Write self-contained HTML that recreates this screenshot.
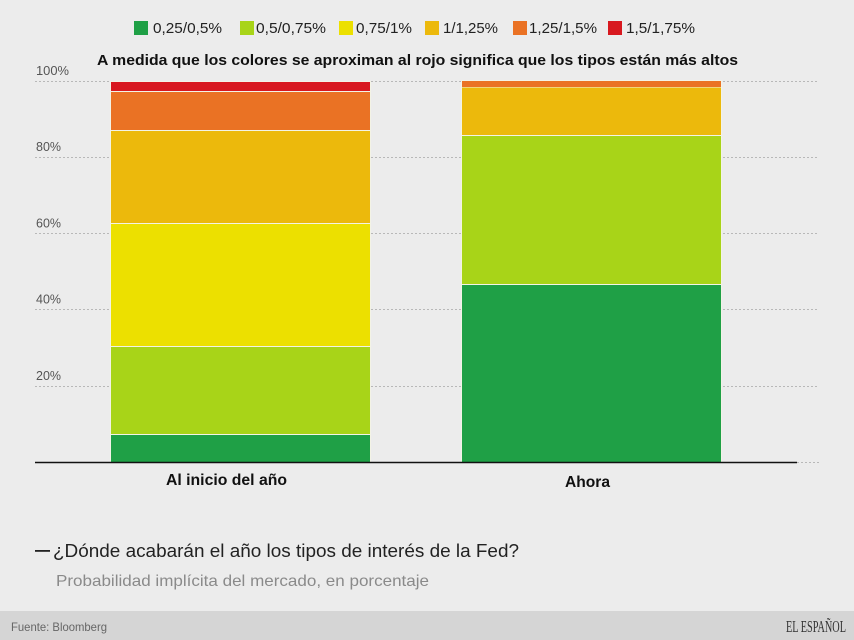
<!DOCTYPE html>
<html><head><meta charset="utf-8"><style>
html,body{margin:0;padding:0;background:#ececec;}
svg{display:block;}
</style></head><body>
<svg width="854" height="640" viewBox="0 0 854 640" xmlns="http://www.w3.org/2000/svg" font-family="'Liberation Sans', Arial, sans-serif">
<rect x="0" y="0" width="854" height="640" fill="#ececec"/>
<!-- legend -->
<g font-size="15" fill="#222">
<rect x="134" y="21" width="14" height="14" fill="#1fa046"/><text x="153" y="33" textLength="69" lengthAdjust="spacingAndGlyphs">0,25/0,5%</text>
<rect x="240" y="21" width="14" height="14" fill="#a8d418"/><text x="256" y="33" textLength="70" lengthAdjust="spacingAndGlyphs">0,5/0,75%</text>
<rect x="339" y="21" width="14" height="14" fill="#ece000"/><text x="356" y="33" textLength="56" lengthAdjust="spacingAndGlyphs">0,75/1%</text>
<rect x="425" y="21" width="14" height="14" fill="#ecb90c"/><text x="443" y="33" textLength="55" lengthAdjust="spacingAndGlyphs">1/1,25%</text>
<rect x="513" y="21" width="14" height="14" fill="#ea7224"/><text x="529" y="33" textLength="68" lengthAdjust="spacingAndGlyphs">1,25/1,5%</text>
<rect x="608" y="21" width="14" height="14" fill="#d8181f"/><text x="626" y="33" textLength="69" lengthAdjust="spacingAndGlyphs">1,5/1,75%</text>
</g>
<text x="97" y="65" font-size="15" font-weight="bold" fill="#111" textLength="641" lengthAdjust="spacingAndGlyphs">A medida que los colores se aproximan al rojo significa que los tipos están más altos</text>
<!-- y labels -->
<g font-size="13" fill="#555">
<text x="36" y="75" textLength="33" lengthAdjust="spacingAndGlyphs">100%</text>
<text x="36" y="151" textLength="25" lengthAdjust="spacingAndGlyphs">80%</text>
<text x="36" y="227.5" textLength="25" lengthAdjust="spacingAndGlyphs">60%</text>
<text x="36" y="303.5" textLength="25" lengthAdjust="spacingAndGlyphs">40%</text>
<text x="36" y="380" textLength="25" lengthAdjust="spacingAndGlyphs">20%</text>
</g>
<!-- gridlines -->
<g stroke="#b8b8b8" stroke-width="1" stroke-dasharray="2,2">
<line x1="35" y1="81.5" x2="819" y2="81.5"/>
<line x1="35" y1="157.5" x2="819" y2="157.5"/>
<line x1="35" y1="233.5" x2="819" y2="233.5"/>
<line x1="35" y1="309.5" x2="819" y2="309.5"/>
<line x1="35" y1="386.5" x2="819" y2="386.5"/>
<line x1="797" y1="462.5" x2="819" y2="462.5"/>
</g>
<!-- left bar -->
<g>
<rect x="110" y="81" width="261" height="382" fill="#f3f3e6"/>
<rect x="111" y="82" width="259" height="9" fill="#d8181f"/>
<rect x="111" y="92" width="259" height="38" fill="#ea7224"/>
<rect x="111" y="131" width="259" height="92" fill="#ecb90c"/>
<rect x="111" y="224" width="259" height="122" fill="#ece000"/>
<rect x="111" y="347" width="259" height="87" fill="#a8d418"/>
<rect x="111" y="435" width="259" height="27" fill="#1fa046"/>
</g>
<!-- right bar -->
<g>
<rect x="461" y="80" width="261" height="383" fill="#f3f3e6"/>
<rect x="462" y="81" width="259" height="6" fill="#ea7224"/>
<rect x="462" y="87.5" width="259" height="47.5" fill="#ecb90c"/>
<rect x="462" y="136" width="259" height="148" fill="#a8d418"/>
<rect x="462" y="285" width="259" height="177" fill="#1fa046"/>
</g>
<!-- baseline -->
<line x1="35" y1="462.5" x2="797" y2="462.5" stroke="#111" stroke-width="1.5"/>
<!-- category labels -->
<g font-size="16" font-weight="bold" fill="#111">
<text x="166" y="485" textLength="121" lengthAdjust="spacingAndGlyphs">Al inicio del año</text>
<text x="565" y="487" textLength="45" lengthAdjust="spacingAndGlyphs">Ahora</text>
</g>
<!-- title -->
<rect x="35" y="550" width="15" height="1.8" fill="#222"/>
<text x="53" y="557" font-size="18" fill="#222" textLength="466" lengthAdjust="spacingAndGlyphs">¿Dónde acabarán el año los tipos de interés de la Fed?</text>
<text x="56" y="586" font-size="16" fill="#8a8a8a" textLength="373" lengthAdjust="spacingAndGlyphs">Probabilidad implícita del mercado, en porcentaje</text>
<!-- footer -->
<rect x="0" y="611" width="854" height="29" fill="#d5d5d5"/>
<text x="11" y="631" font-size="12" fill="#666" textLength="96" lengthAdjust="spacingAndGlyphs">Fuente: Bloomberg</text>
<text x="786" y="632" font-size="17" fill="#333" font-family="'Liberation Serif', serif" textLength="60" lengthAdjust="spacingAndGlyphs">EL ESPAÑOL</text>
</svg>
</body></html>
